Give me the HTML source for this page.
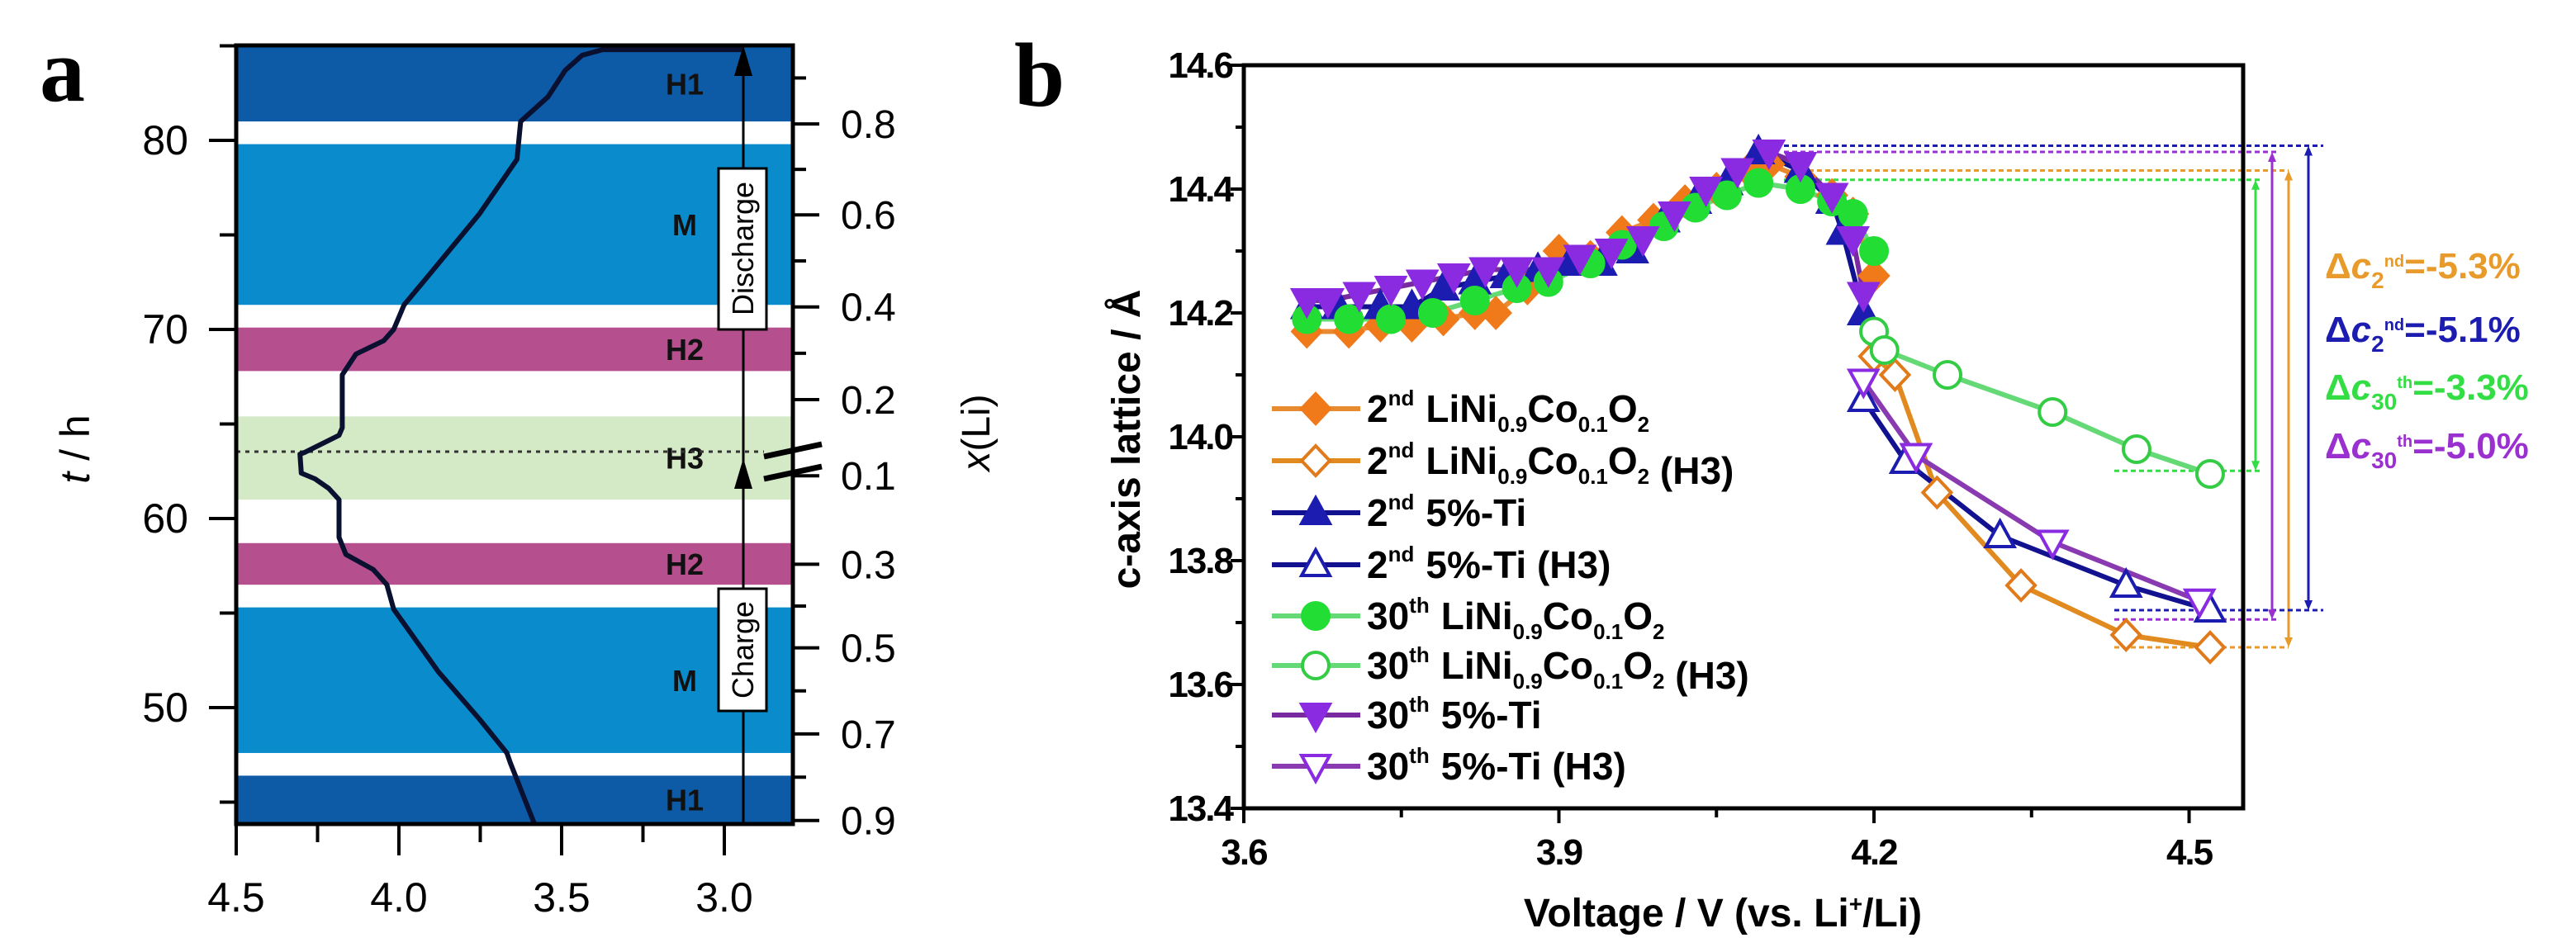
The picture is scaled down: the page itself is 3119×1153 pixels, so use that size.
<!DOCTYPE html>
<html><head><meta charset="utf-8"><style>
html,body{margin:0;padding:0;background:#fff;}
svg{display:block;font-family:"Liberation Sans",Arial,sans-serif;}
</style></head><body>
<svg id="fig" width="3119" height="1153" viewBox="0 0 3119 1153" xmlns="http://www.w3.org/2000/svg">
<rect width="3119" height="1153" fill="#fff"/>
<g id="pa"></g>
<g id="pb"></g>
</svg>
<script>
// ---------- Panel a data ----------
const aBands = ["H1","M","H2","H3","H2","M","H1"];
const aBandLo = [81.0, 71.3, 67.8, 61.0, 56.5, 47.6, 43.8];
const aBandHi = [85.0, 79.8, 70.1, 65.4, 58.7, 55.3, 46.4];
const aCurveV = [3.584,3.658,3.668,3.753,3.879,4.016,4.037,4.079,4.163,4.184,4.184,4.216,4.258,4.30,4.304,4.289,4.184,4.174,4.174,4.132,4.047,4.016,3.984,3.921,3.753,3.637,3.626,3.542,3.489,3.437,3.374,2.94];
const aCurveT = [43.87,47.1,47.6,49.4,51.9,55.2,56.5,57.3,58.1,59.0,61.0,61.6,62.1,62.4,63.4,63.5,64.4,64.8,67.6,68.7,69.4,70.0,71.3,72.6,76.1,79.0,81.0,82.3,83.7,84.5,84.8,84.8];
const aTTicks = [50,60,70,80];
const aVTicks = [4.5,4.0,3.5,3.0];
const aXLiLabels = ["0.8","0.6","0.4","0.2","0.1","0.3","0.5","0.7","0.9"];
const aXLiT = [80.87,76.06,71.19,66.29,62.26,57.58,53.16,48.61,44.03];

// ---------- Panel b data ----------
const bXTicks = [3.6,3.9,4.2,4.5];
const bYTicks = [13.4,13.6,13.8,14.0,14.2,14.4,14.6];
const s1V=[3.66,3.70,3.73,3.76,3.79,3.82,3.84,3.87,3.90,3.93,3.96,3.99,4.02,4.05,4.08,4.10,4.13,4.16,4.18,4.20];
const s1C=[14.17,14.17,14.18,14.18,14.19,14.20,14.20,14.24,14.30,14.29,14.33,14.35,14.38,14.40,14.43,14.44,14.42,14.39,14.36,14.26];
const s2V=[4.20,4.22,4.26,4.34,4.44,4.52];
const s2C=[14.13,14.10,13.91,13.76,13.68,13.66];
const s3V=[3.66,3.69,3.73,3.76,3.79,3.82,3.85,3.88,3.91,3.94,3.97,4.00,4.03,4.06,4.09,4.13,4.16,4.17,4.19];
const s3C=[14.21,14.21,14.21,14.21,14.24,14.25,14.26,14.27,14.28,14.28,14.30,14.35,14.38,14.41,14.46,14.43,14.38,14.33,14.20];
const s4V=[4.19,4.23,4.32,4.44,4.52];
const s4C=[14.06,13.96,13.84,13.76,13.72];
const s5V=[3.66,3.70,3.74,3.78,3.82,3.86,3.89,3.93,3.96,4.00,4.03,4.06,4.09,4.13,4.16,4.18,4.20];
const s5C=[14.19,14.19,14.19,14.20,14.22,14.24,14.25,14.28,14.31,14.34,14.37,14.39,14.41,14.40,14.38,14.36,14.30];
const s6V=[4.20,4.21,4.27,4.37,4.45,4.52];
const s6C=[14.17,14.14,14.10,14.04,13.98,13.94];
const s7V=[3.66,3.68,3.71,3.74,3.77,3.80,3.83,3.86,3.89,3.92,3.95,3.98,4.01,4.04,4.07,4.10,4.13,4.16,4.18,4.19];
const s7C=[14.22,14.22,14.23,14.24,14.25,14.26,14.27,14.27,14.27,14.29,14.30,14.32,14.36,14.40,14.43,14.46,14.44,14.39,14.32,14.23];
const s8V=[4.19,4.24,4.37,4.51];
const s8C=[14.09,13.97,13.83,13.735];
const deltaTop=[14.43,14.47,14.415,14.46];
const deltaBot=[13.66,13.72,13.945,13.705];
const deltaText=["-5.3%","-5.1%","-3.3%","-5.0%"];

const NS="http://www.w3.org/2000/svg";
function mk(parent,tag,attrs,name,inter){
  const e=document.createElementNS(NS,tag);
  for(const k in attrs)e.setAttribute(k,attrs[k]);
  
  
  parent.appendChild(e);return e;
}
// ===== Panel a =====
const pa=document.getElementById('pa');
const aL=286,aR=960,aT=55,aB=998;
const ax=v=>aL+(4.5-v)*394;
const ay=t=>170+(80-t)*22.9;
const bandCol={H1:"#0d5aa6",M:"#0a8bcc",H2:"#b64f8e",H3:"#d4e9c6"};
mk(pa,'rect',{x:aL,y:aT,width:aR-aL,height:aB-aT,fill:"#fff"},'plot-bg',false);
for(let i=0;i<aBands.length;i++){
  const y1=Math.max(ay(aBandHi[i]),aT),y2=Math.min(ay(aBandLo[i]),aB);
  mk(pa,'rect',{x:aL,y:y1,width:aR-aL,height:y2-y1,fill:bandCol[aBands[i]]},'band-'+aBands[i].toLowerCase(),false);
  const tx=mk(pa,'text',{x:829,y:(y1+y2)/2+13,"font-size":36,"font-weight":"bold","text-anchor":"middle",fill:"#111"},'band-label',false);
  tx.textContent=aBands[i];
}
mk(pa,'line',{x1:aL,x2:925,y1:547,y2:547,stroke:"#333",'stroke-width':3,'stroke-dasharray':"5,6"},'dotted-line',false);
let d="";aCurveV.forEach((v,i)=>{d+=(i?"L":"M")+ax(v).toFixed(1)+","+ay(aCurveT[i]).toFixed(1);});
mk(pa,'path',{d:d,fill:"none",stroke:"#0a1030","stroke-width":6,"stroke-linejoin":"round"},'voltage-curve',false);
mk(pa,'line',{x1:900,x2:900,y1:aB,y2:72,stroke:"#000","stroke-width":3},'charge-arrow-line',false);
mk(pa,'polygon',{points:"900,55 889,92 911,92",fill:"#000"},'arrow-head-top',false);
mk(pa,'polygon',{points:"900,555 889,592 911,592",fill:"#000"},'arrow-head-mid',false);
mk(pa,'rect',{x:870,y:204,width:58,height:195,fill:"#fff",stroke:"#000","stroke-width":3},'discharge-box',false);
let t=mk(pa,'text',{x:0,y:0,"font-size":36,"text-anchor":"middle",transform:"translate(912,301) rotate(-90)"},'discharge-label',false);t.textContent="Discharge";
mk(pa,'rect',{x:870,y:713,width:58,height:148,fill:"#fff",stroke:"#000","stroke-width":3},'charge-box',false);
t=mk(pa,'text',{x:0,y:0,"font-size":36,"text-anchor":"middle",transform:"translate(912,787) rotate(-90)"},'charge-label',false);t.textContent="Charge";
mk(pa,'rect',{x:aL,y:aT,width:aR-aL,height:aB-aT,fill:"none",stroke:"#000","stroke-width":5},'plot-frame',false);
for(let v=45;v<=85;v+=5){
  const maj=v%10===0;
  mk(pa,'line',{x1:maj?253:266,x2:aL,y1:ay(v),y2:ay(v),stroke:"#000","stroke-width":4},'y-tick',false);
}
aTTicks.forEach(v=>{t=mk(pa,'text',{x:228,y:ay(v)+17,"font-size":50,"text-anchor":"end"},'y-tick-label',false);t.textContent=v;});
for(let v=4.5;v>2.8;v-=0.25){
  const maj=Math.abs(v*2-Math.round(v*2))<1e-6;
  mk(pa,'line',{x1:ax(v),x2:ax(v),y1:aB,y2:maj?1036:1020,stroke:"#000","stroke-width":4},'x-tick',false);
}
aVTicks.forEach(v=>{t=mk(pa,'text',{x:ax(v),y:1104,"font-size":50,"text-anchor":"middle"},'x-tick-label',false);t.textContent=v.toFixed(1);});
aXLiT.forEach((tt,i)=>{
  mk(pa,'line',{x1:aR,x2:992,y1:ay(tt),y2:ay(tt),stroke:"#000","stroke-width":4},'right-tick',false);
  t=mk(pa,'text',{x:1018,y:ay(tt)+17,"font-size":48},'right-tick-label',false);t.textContent=aXLiLabels[i];
});
for(let i=0;i<aXLiT.length-1;i++){
  if(i===3||i===4)continue;
  const m=(aXLiT[i]+aXLiT[i+1])/2;
  mk(pa,'line',{x1:aR,x2:976,y1:ay(m),y2:ay(m),stroke:"#000","stroke-width":4},'right-minor-tick',false);
}
mk(pa,'line',{x1:aR,x2:976,y1:ay(83.3),y2:ay(83.3),stroke:"#000","stroke-width":4},'right-minor-tick',false);
mk(pa,'line',{x1:925,y1:553,x2:995,y2:538,stroke:"#000","stroke-width":7},'axis-break',false);
mk(pa,'line',{x1:925,y1:580,x2:995,y2:565,stroke:"#000","stroke-width":7},'axis-break',false);
t=mk(pa,'text',{x:0,y:0,"font-size":50,"text-anchor":"middle",transform:"translate(108,544) rotate(-90)"},'y-axis-title',false);
t.innerHTML='<tspan font-style="italic">t</tspan> / h';
t=mk(pa,'text',{x:0,y:0,"font-size":48,"text-anchor":"middle",transform:"translate(1198,524) rotate(-90)"},'right-axis-title',false);
t.innerHTML='<tspan font-style="italic">x</tspan>(Li)';
t=mk(pa,'text',{x:48,y:122,"font-size":110,"font-weight":"bold","font-family":"Liberation Serif, serif"},'panel-label-a',false);t.textContent="a";

// ===== Panel b =====
const pb=document.getElementById('pb');
const bL=1506,bR=2716,bT=79,bB=979;
const bx=v=>bL+(v-3.6)*1271.7;
const by=c=>bT+(14.6-c)*750;
t=mk(pb,'text',{x:1228,y:128,"font-size":110,"font-weight":"bold","font-family":"Liberation Serif, serif"},'panel-label-b',false);t.textContent="b";
const dCols=["#e89a2a","#1c1cb0","#33dd44","#9b30d0"];
const dX=[2771,2795,2731,2751];
const dEnd=[2771,2813,2740,2760];
for(let i=0;i<4;i++){
  mk(pb,'line',{x1:2160,x2:dEnd[i],y1:by(deltaTop[i]),y2:by(deltaTop[i]),stroke:dCols[i],"stroke-width":3,"stroke-dasharray":"6,4"},'delta-top-line',false);
  mk(pb,'line',{x1:2560,x2:dEnd[i],y1:by(deltaBot[i]),y2:by(deltaBot[i]),stroke:dCols[i],"stroke-width":3,"stroke-dasharray":"6,4"},'delta-bottom-line',false);
  mk(pb,'line',{x1:dX[i],x2:dX[i],y1:by(deltaTop[i])+8,y2:by(deltaBot[i])-8,stroke:dCols[i],"stroke-width":3},'delta-arrow',false);
  mk(pb,'polygon',{points:`${dX[i]},${by(deltaTop[i])} ${dX[i]-5},${by(deltaTop[i])+12} ${dX[i]+5},${by(deltaTop[i])+12}`,fill:dCols[i]},'delta-arrow-head',false);
  mk(pb,'polygon',{points:`${dX[i]},${by(deltaBot[i])} ${dX[i]-5},${by(deltaBot[i])-12} ${dX[i]+5},${by(deltaBot[i])-12}`,fill:dCols[i]},'delta-arrow-head',false);
}
const dSub=[["2","nd"],["2","nd"],["30","th"],["30","th"]];
const dY=[337,414,484,555];
for(let i=0;i<4;i++){
  t=mk(pb,'text',{x:2815,y:dY[i],"font-size":44,"font-weight":"bold",fill:dCols[i]},'delta-label',false);
  t.innerHTML=`Δ<tspan font-style="italic">c</tspan><tspan font-size="28" dy="12">${dSub[i][0]}</tspan><tspan font-size="20" dy="-26">${dSub[i][1]}</tspan><tspan dy="14">=${deltaText[i]}</tspan>`;
}
const series=[
 {v:s1V,c:s1C,col:"#f07a1a",line:"#e88a30",m:"diamond",fill:true,name:"2nd-lnco"},
 {v:s2V,c:s2C,col:"#e07a1a",line:"#e08a20",m:"diamond",fill:false,name:"2nd-lnco-h3"},
 {v:s3V,c:s3C,col:"#1c1cb0",line:"#121290",m:"up",fill:true,name:"2nd-ti"},
 {v:s4V,c:s4C,col:"#1c1cb0",line:"#121290",m:"up",fill:false,name:"2nd-ti-h3"},
 {v:s5V,c:s5C,col:"#22dd33",line:"#66d977",m:"circle",fill:true,name:"30th-lnco"},
 {v:s6V,c:s6C,col:"#33cc44",line:"#66d977",m:"circle",fill:false,name:"30th-lnco-h3"},
 {v:s7V,c:s7C,col:"#8a2be2",line:"#7a2aa0",m:"down",fill:true,name:"30th-ti"},
 {v:s8V,c:s8C,col:"#8a2be2",line:"#8a3ab0",m:"down",fill:false,name:"30th-ti-h3"}
];
function marker(g,type,x,y,col,fill,name){
  const a={fill:fill?col:"#fff",stroke:col,"stroke-width":4};
  let e;
  if(type==="diamond")a.points=`${x},${y-18} ${x+17},${y} ${x},${y+18} ${x-17},${y}`;
  if(type==="up")a.points=`${x},${y-18} ${x+17},${y+13} ${x-17},${y+13}`;
  if(type==="down")a.points=`${x},${y+18} ${x+17},${y-13} ${x-17},${y-13}`;
  if(type==="circle"){a.cx=x;a.cy=y;a.r=16;e=mk(g,'circle',a,name,false);}
  else e=mk(g,'polygon',a,name,false);
  return e;
}
series.forEach(s=>{
  const g=mk(pb,'g',{},'series-'+s.name,false);
  let d="";s.v.forEach((v,i)=>{d+=(i?"L":"M")+bx(v).toFixed(1)+","+by(s.c[i]).toFixed(1);});
  mk(g,'path',{d:d,fill:"none",stroke:s.line,"stroke-width":6,"stroke-linejoin":"round"},'series-line',false);
});
series.forEach(s=>{
  const g=mk(pb,'g',{},'markers-'+s.name,false);
  s.v.forEach((v,i)=>marker(g,s.m,bx(v),by(s.c[i]),s.col,s.fill,'data-point'));
});
mk(pb,'rect',{x:bL,y:bT,width:bR-bL,height:bB-bT,fill:"none",stroke:"#000","stroke-width":5},'plot-frame',false);
for(let c=13.4;c<=14.601;c+=0.1){
  const maj=Math.round(c*10)%2===0;
  mk(pb,'line',{x1:maj?1490:1496,x2:bL,y1:by(c),y2:by(c),stroke:"#000","stroke-width":4},'y-tick',false);
}
bYTicks.forEach(c=>{t=mk(pb,'text',{x:1492,y:by(c)+15,"font-size":44,"font-weight":"bold","text-anchor":"end","letter-spacing":"-2"},'y-tick-label',false);t.textContent=c.toFixed(1);});
for(let v=3.6;v<=4.56;v+=0.15){
  const maj=Math.round(v*100)%30===0;
  mk(pb,'line',{x1:bx(v),x2:bx(v),y1:bB,y2:maj?997:990,stroke:"#000","stroke-width":4},'x-tick',false);
}
bXTicks.forEach(v=>{t=mk(pb,'text',{x:bx(v),y:1047,"font-size":44,"font-weight":"bold","text-anchor":"middle","letter-spacing":"-2"},'x-tick-label',false);t.textContent=v.toFixed(1);});
t=mk(pb,'text',{x:2086,y:1122,"font-size":48,"font-weight":"bold","text-anchor":"middle"},'x-axis-title',false);
t.innerHTML='Voltage / V (vs. Li<tspan font-size="28" dy="-18">+</tspan><tspan dy="18">/Li)</tspan>';
t=mk(pb,'text',{x:0,y:0,"font-size":48,"font-weight":"bold","text-anchor":"middle",transform:"translate(1380,532) rotate(-90)"},'y-axis-title',false);
t.textContent="c-axis lattice / Å";
const legOrd=["2","2","2","2","30","30","30","30"];
const legSup=["nd","nd","nd","nd","th","th","th","th"];
const legTxt=["LNCO","LNCO (H3)","5%-Ti","5%-Ti (H3)","LNCO","LNCO (H3)","5%-Ti","5%-Ti (H3)"];
const legY=[495,558,621,684,746,806,866,928];
series.forEach((s,i)=>{
  const g=mk(pb,'g',{},'legend-entry',false);
  mk(g,'line',{x1:1540,x2:1647,y1:legY[i],y2:legY[i],stroke:s.line,"stroke-width":6},'legend-line',false);
  marker(g,s.m,1593,legY[i],s.col,s.fill,'legend-marker');
  const tx=mk(g,'text',{x:1655,y:legY[i]+16,"font-size":46,"font-weight":"bold"},'legend-label',false);
  let body=legTxt[i];
  const f='LiNi<tspan font-size="26" dy="12">0.9</tspan><tspan dy="-12">Co</tspan><tspan font-size="26" dy="12">0.1</tspan><tspan dy="-12">O</tspan><tspan font-size="26" dy="12">2</tspan><tspan dy="-12"></tspan>';
  body=body.replace("LNCO",f);
  tx.innerHTML=`${legOrd[i]}<tspan font-size="26" dy="-20">${legSup[i]}</tspan><tspan dy="20" dx="14">${body}</tspan>`;
});
</script>
</body></html>
